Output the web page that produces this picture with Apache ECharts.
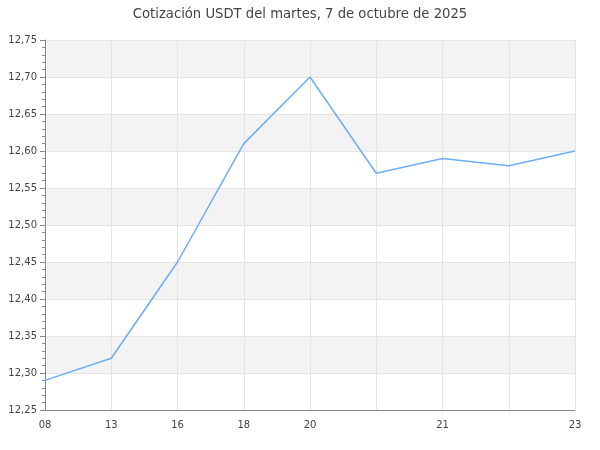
<!DOCTYPE html>
<html><head><meta charset="utf-8">
<script src="https://cdn.jsdelivr.net/npm/echarts@6/dist/echarts.min.js"></script>
<style>html,body{margin:0;padding:0;background:#fff}#c{width:600px;height:450px}</style>
</head><body><div id="c"></div>
<script>
var categories = ['08', '13', '16', '18', '20', '', '21', '', '23'];
var values = [12.29, 12.32, 12.45, 12.61, 12.70, 12.57, 12.59, 12.58, 12.60];
var chart = echarts.init(document.getElementById('c'), null, {renderer: 'canvas'});
chart.setOption({
  animation: false,
  title: {text: 'Cotización USDT del martes, 7 de octubre de 2025', left: 'center', top: 3,
    textStyle: {fontFamily: 'DejaVu Sans', fontSize: 13.2, fontWeight: 'normal', color: '#444'}},
  grid: {left: 45, right: 25, top: 40, bottom: 40},
  xAxis: {type: 'category', data: categories, boundaryGap: false,
    axisLine: {lineStyle: {color: '#888'}}, axisTick: {show: false},
    axisLabel: {fontFamily: 'DejaVu Sans', fontSize: 10, color: '#444', interval: 0, margin: 10},
    splitLine: {show: true, lineStyle: {color: '#e4e4e4'}}},
  yAxis: {type: 'value', min: 12.25, max: 12.75, interval: 0.05,
    axisLine: {show: true, lineStyle: {color: '#888'}},
    axisTick: {show: true, length: 5, lineStyle: {color: '#888'}},
    minorTick: {show: true, splitNumber: 5, length: 3, lineStyle: {color: '#888'}},
    axisLabel: {fontFamily: 'DejaVu Sans', fontSize: 10, color: '#444', margin: 8,
      formatter: function (v) { return v.toFixed(2).replace('.', ','); }},
    splitLine: {show: true, lineStyle: {color: '#e4e4e4'}},
    splitArea: {show: true, areaStyle: {color: ['#ffffff', '#f3f3f3']}}},
  series: [{type: 'line', data: values, symbol: 'none', lineStyle: {color: '#6caef5', width: 1.5}}]
});
</script></body></html>
